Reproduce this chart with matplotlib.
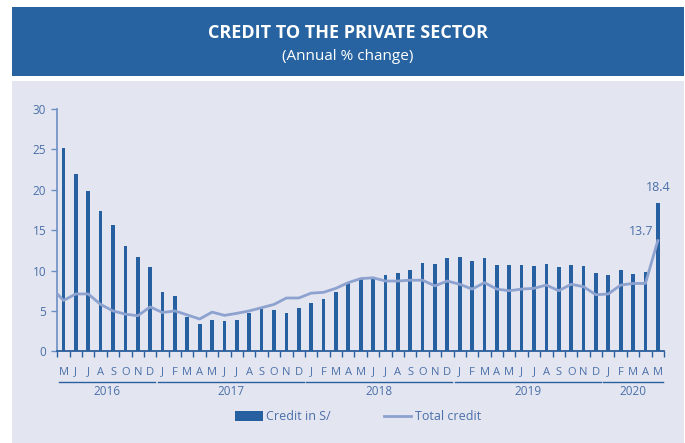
import matplotlib
matplotlib.use("Agg")
import matplotlib.pyplot as plt
from matplotlib.patches import Rectangle
import numpy as np

plt.rcParams['font.family'] = ['Open Sans', 'DejaVu Sans']

# monthly data, May 2016 - May 2020
months = list("MJJASOND") + list("JFMAMJJASOND") * 3 + list("JFMAM")
years = ["2016", "2017", "2018", "2019", "2020"]
months_per_year = [8, 12, 12, 12, 5]

credit_soles = [25.2, 22.0, 19.9, 17.4, 15.6, 13.0, 11.7, 10.4,
                7.3, 6.9, 4.3, 3.4, 3.9, 3.8, 3.9, 4.8, 5.2, 5.1, 4.7, 5.3,
                6.0, 6.5, 7.4, 8.4, 8.9, 9.0, 9.5, 9.7, 10.1, 10.9, 10.8, 11.6,
                11.7, 11.2, 11.6, 10.7, 10.7, 10.7, 10.5, 10.8, 10.4, 10.7, 10.5, 9.7,
                9.5, 10.1, 9.6, 9.8, 18.4]

# total credit starts one month earlier (Apr 2016), cut off at the axis
total_credit = [7.9,
                6.3, 7.1, 7.1, 5.8, 5.0, 4.6, 4.4, 5.5,
                4.8, 5.0, 4.5, 4.0, 4.85, 4.45, 4.7, 5.0, 5.4, 5.8, 6.6, 6.6,
                7.2, 7.3, 7.8, 8.5, 9.0, 9.1, 8.7, 8.7, 8.8, 8.8, 8.1, 8.7,
                8.3, 7.7, 8.5, 7.7, 7.5, 7.7, 7.8, 8.2, 7.5, 8.3, 8.0, 7.0,
                7.1, 8.2, 8.4, 8.4, 13.7]

header_col = "#2763a0"
panel_col = "#e3e6f1"
bar_col = "#2760a0"
line_col = "#8da2cf"
text_col = "#4a6fa8"

W, H = 685, 443
fig = plt.figure(figsize=(W / 100, H / 100), dpi=100)

# header band and chart panel
fig.add_artist(Rectangle((12 / W, 1 - 76 / H), 672 / W, 69 / H, transform=fig.transFigure,
                         facecolor=header_col, edgecolor="none", zorder=-2))
fig.add_artist(Rectangle((12 / W, 0), 672 / W, 1 - 81 / H, transform=fig.transFigure,
                         facecolor=panel_col, edgecolor="none", zorder=-2))
fig.text(348 / W, 1 - 33 / H, "CREDIT TO THE PRIVATE SECTOR", color="white",
         fontsize=13, fontweight="bold", ha="center", va="center")
fig.text(348 / W, 1 - 57 / H, "(Annual % change)", color="white",
         fontsize=11, ha="center", va="center")

ax = fig.add_axes([57.3 / W, 1 - 351.3 / H, (664 - 57.3) / W, (351.3 - 109) / H])
ax.set_facecolor("none")

x = np.arange(len(credit_soles))
x_total = np.arange(-1, len(credit_soles))

bars = ax.bar(x, credit_soles, width=0.3, color=bar_col, label="Credit in S/", zorder=2)
line, = ax.plot(x_total, total_credit, color=line_col, lw=2, label="Total credit", zorder=3)

ax.set_xlim(-0.5, len(credit_soles) - 0.5)
ax.set_ylim(0, 30)
ax.set_yticks(range(0, 31, 5))

for s in ["top", "right"]:
    ax.spines[s].set_visible(False)
ax.spines["left"].set_color("#6d8ec4")
ax.spines["left"].set_linewidth(1.2)
ax.spines["bottom"].set_color("#2b5e9c")
ax.spines["bottom"].set_linewidth(1.3)

ax.tick_params(axis="y", colors="#6d8ec4", labelcolor=text_col, labelsize=8.5,
               length=4, width=1, pad=4)
ax.set_xticks(x)
ax.set_xticklabels(months)
ax.set_xticks(np.arange(-0.5, len(credit_soles)), minor=True)
ax.tick_params(axis="x", which="major", length=0, labelcolor=text_col, labelsize=8, pad=11)
ax.tick_params(axis="x", which="minor", length=4, width=1, color="#2b5e9c")

# year brackets under the month letters
trans = ax.get_xaxis_transform()
start = 0
for yr, n in zip(years, months_per_year):
    lo, hi = start - 0.5 + 0.1, start + n - 0.5 - 0.1
    ax.plot([lo, hi], [-0.125, -0.125], color="#2b5e9c", lw=1, transform=trans, clip_on=False)
    ax.text((lo + hi) / 2, -0.165, yr, color=text_col, fontsize=8.5, ha="center",
            va="center", transform=trans)
    start += n

# end-point labels
ax.annotate(f"{credit_soles[-1]}", (x[-1], credit_soles[-1]), xytext=(0, 11),
            textcoords="offset points", ha="center", va="center", color=text_col, fontsize=9)
ax.annotate(f"{total_credit[-1]}", (x[-1], total_credit[-1]), xytext=(-12, 6.5),
            textcoords="offset points", ha="center", va="center", color=text_col, fontsize=9)

fig.legend([bars, line], ["Credit in S/", "Total credit"], loc="center",
           bbox_to_anchor=(358 / W, 1 - 417 / H), ncol=2, frameon=False,
           fontsize=9, labelcolor=text_col, handlelength=2.2, handleheight=0.9,
           handletextpad=0.3, columnspacing=4.2)

fig.savefig("out.png", dpi=100)
